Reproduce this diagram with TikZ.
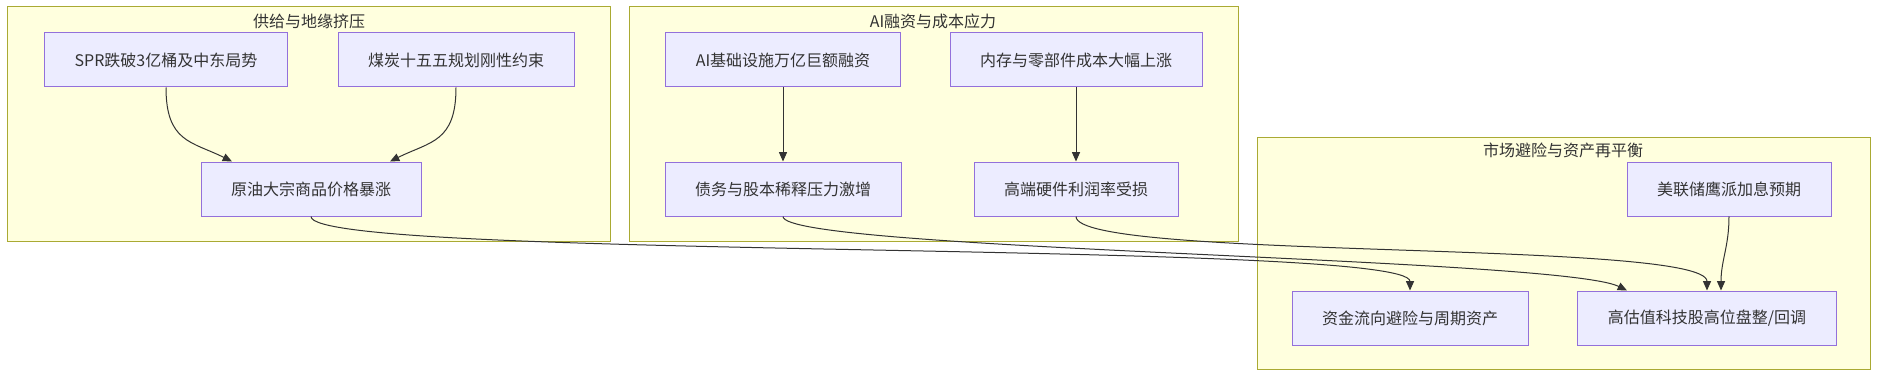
\documentclass[tikz,border=0pt]{standalone}
\usepackage{fontspec}
\setmainfont{Noto Sans CJK SC}
\usetikzlibrary{arrows.meta,calc}
\definecolor{grpfill}{HTML}{FFFFDE}
\definecolor{grpline}{HTML}{AAAA33}
\definecolor{boxfill}{HTML}{ECECFF}
\definecolor{boxline}{HTML}{9370DB}
\definecolor{ink}{HTML}{333333}
\tikzset{
  box/.style={draw=boxline,fill=boxfill,line width=0.75pt,inner xsep=22.5pt,
    minimum height=40.5pt,text=ink,font=\fontsize{12}{14}\selectfont},
  grp/.style={draw=grpline,fill=grpfill,line width=0.75pt},
  grptitle/.style={text=ink,inner sep=0pt,font=\fontsize{12}{14}\selectfont},
  flow/.style={draw=ink,line width=0.75pt,-{Triangle[length=7pt,width=6pt]}}
}

\begin{document}
\begin{tikzpicture}[x=0.75pt,y=-0.75pt]
\useasboundingbox (0,0) rectangle (1878,378);
% groups
\draw[grp] (7,7) rectangle (610,241);
\draw[grp] (629,7) rectangle (1238,241);
\draw[grp] (1257,137) rectangle (1870,369);
\node[grptitle] (supplyT) at (309,21) {供给与地缘挤压};
\node[grptitle] (aiT) at (933,21) {AI融资与成本应力};
\node[grptitle] (marketT) at (1563,150) {市场避险与资产再平衡};
% boxes
\node[box] (spr) at (166,60) {SPR跌破3亿桶及中东局势};
\node[box] (coal) at (456,60) {煤炭十五五规划刚性约束};
\node[box] (oil) at (311,189) {原油大宗商品价格暴涨};
\node[box] (aifin) at (783,60) {AI基础设施万亿巨额融资};
\node[box] (mem) at (1076,60) {内存与零部件成本大幅上涨};
\node[box] (debt) at (783,189) {债务与股本稀释压力激增};
\node[box] (hw) at (1076,189) {高端硬件利润率受损};
\node[box] (fed) at (1729,189) {美联储鹰派加息预期};
\node[box] (fund) at (1410,318) {资金流向避险与周期资产};
\node[box] (tech) at (1707,318) {高估值科技股高位盘整/回调};
% links
\draw[flow] (spr.south) .. controls +(0,55) and +(-40,-20) .. ($(oil.north)+(-79,0)$);
\draw[flow] (coal.south) .. controls +(0,55) and +(40,-20) .. ($(oil.north)+(79,0)$);
\draw[flow] (aifin.south) -- (debt.north);
\draw[flow] (mem.south) -- (hw.north);
\draw[flow] (oil.south) .. controls +(0,44) and +(0,-51) .. (fund.north);
\draw[flow] (debt.south) .. controls +(0,34) and +(-67,-33) .. ($(tech.north)+(-80,0)$);
\draw[flow] (hw.south) .. controls +(0,44) and +(0,-51) .. (tech.north);
\draw[flow] (fed.south) .. controls +(0,30) and +(0,-30) .. ($(tech.north)+(14,0)$);
\end{tikzpicture}
\end{document}
